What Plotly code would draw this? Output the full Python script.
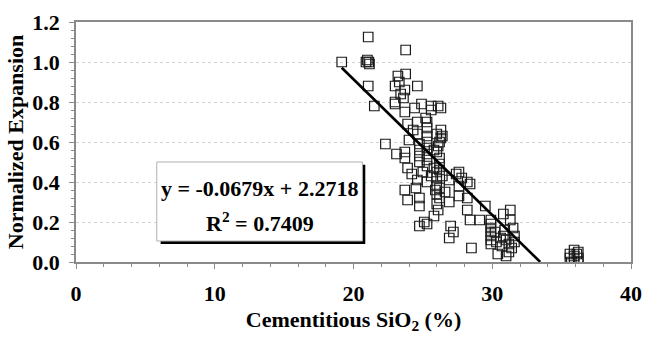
import numpy as np
import plotly.graph_objects as go

# ---- data ----
sio2 = [
    19.15, 21.06, 20.9, 21.0, 21.1, 21.15, 23.76, 21.06, 23.2, 23.76, 23.0, 23.3, 23.7, 24.6,
    23.0, 23.6, 23.4, 21.5, 24.9, 25.6, 26.1,
    23.0, 23.7, 24.4, 25.2, 25.6, 26.3, 23.9, 24.6, 25.3, 25.3, 24.6, 26.0, 25.3, 25.3, 25.3,
    25.3, 25.3, 25.3, 22.3, 23.1, 23.7, 23.7, 24.75, 24.75, 24.75, 24.75, 25.8, 26.2, 26.2,
    26.0, 26.1, 26.3, 24.6, 25.3, 26.0, 26.0, 26.0, 25.8, 26.2,
    26.3, 26.4, 26.2, 26.4, 27.6, 26.9, 28.2, 28.4, 27.8, 27.4,
    23.9, 24.75, 24.75, 24.5, 26.0, 25.8, 24.75, 25.3, 25.1, 26.0, 26.2, 26.1, 25.9,
    26.2, 27.6, 28.2, 26.9, 27.6, 28.2, 29.5, 31.3, 30.8, 28.4, 29.1, 29.9, 29.9, 29.9,
    29.9, 29.9, 29.9, 31.3, 27.0, 27.2, 26.9, 28.5, 30.3, 30.4, 31.0, 30.8, 31.0, 31.2,
    31.4, 30.7, 31.6, 31.6, 30.9, 31.2, 30.6, 29.9, 30.2, 31.5,
    35.6, 35.6, 35.9, 35.9, 35.9, 36.2, 36.2, 36.2, 35.7, 36.1,
    23.9, 24.2, 23.7, 24.3, 25.0, 24.0, 25.6, 26.6,
]
expansion = [
    1.00, 1.125, 1.00, 1.01, 1.00, 0.99, 1.06, 0.88, 0.93, 0.94, 0.88, 0.90, 0.86, 0.88,
    0.80, 0.82, 0.84, 0.78, 0.79, 0.78, 0.78,
    0.79, 0.75, 0.77, 0.72, 0.76, 0.77, 0.69, 0.70, 0.70, 0.67, 0.64, 0.64, 0.63, 0.60, 0.57,
    0.54, 0.51, 0.48, 0.59, 0.54, 0.55, 0.52, 0.59, 0.56, 0.53, 0.50, 0.56, 0.60, 0.52,
    0.55, 0.58, 0.62, 0.41, 0.40, 0.45, 0.42, 0.38, 0.47, 0.49,
    0.66, 0.63, 0.46, 0.43, 0.45, 0.41, 0.40, 0.39, 0.42, 0.44,
    0.31, 0.32, 0.28, 0.37, 0.29, 0.23, 0.18, 0.19, 0.20, 0.34, 0.32, 0.26, 0.36,
    0.37, 0.38, 0.32, 0.30, 0.33, 0.26, 0.28, 0.26, 0.24, 0.21, 0.21, 0.21, 0.19, 0.17,
    0.15, 0.13, 0.11, 0.21, 0.18, 0.15, 0.12, 0.07, 0.10, 0.04, 0.03, 0.13, 0.11, 0.09,
    0.07, 0.08, 0.13, 0.10, 0.16, 0.05, 0.12, 0.09, 0.15, 0.17,
    0.02, 0.04, 0.06, 0.03, 0.00, 0.05, 0.02, 0.00, 0.00, 0.04,
    0.47, 0.44, 0.36, 0.66, 0.45, 0.61, 0.43, 0.35,
]
fit_slope = -0.0679
fit_intercept = 2.2718
fit_x_start = 19.15
x_ticks = [0, 10, 20, 30, 40]
y_ticks = [0.0, 0.2, 0.4, 0.6, 0.8, 1.0, 1.2]
eq_text = "y = -0.0679x + 2.2718"
r2_text = "R<sup>2</sup> = 0.7409"

FONT = "Liberation Serif"
GREY = "#8a8a8a"

fit_x = np.array([fit_x_start, -fit_intercept / fit_slope])
fit_y = fit_slope * fit_x + fit_intercept

fig = go.Figure()
fig.add_trace(go.Scatter(
    x=sio2, y=expansion, mode="markers",
    marker=dict(symbol="square-open", size=9.5, color="#1a1a1a", line=dict(width=1.2)),
    showlegend=False, hoverinfo="skip"))
fig.add_trace(go.Scatter(
    x=fit_x, y=fit_y, mode="lines", line=dict(color="black", width=2.6),
    showlegend=False, hoverinfo="skip"))

# equation box (shadow + box)
fig.add_shape(type="rect", xref="x", yref="y", x0=6.10, x1=20.85, y0=0.090, y1=0.486,
              fillcolor="black", line=dict(width=0), layer="above")
fig.add_shape(type="rect", xref="x", yref="y", x0=5.82, x1=20.64, y0=0.105, y1=0.50,
              fillcolor="white", line=dict(color="#b0b0b0", width=1), layer="above")
fig.add_annotation(x=13.23, y=0.367, xref="x", yref="y", text=eq_text, showarrow=False,
                   font=dict(family=FONT, size=22, color="black", weight="bold"))
fig.add_annotation(x=13.23, y=0.20, xref="x", yref="y", text=r2_text, showarrow=False,
                   font=dict(family=FONT, size=22, color="black", weight="bold"))

fig.update_layout(
    width=652, height=345,
    margin=dict(l=76, r=12, t=10, b=83),
    paper_bgcolor="white", plot_bgcolor="white",
    font=dict(family=FONT, color="black"),
)
fig.update_xaxes(
    range=[0, 40], tickvals=x_ticks, ticks="outside", ticklen=5, tickcolor=GREY,
    minor=dict(dtick=2, ticks="outside", ticklen=3, tickcolor=GREY, showgrid=False),
    showgrid=False, zeroline=False, showline=True, linecolor=GREY, linewidth=1.5, mirror=True,
    tickfont=dict(family=FONT, size=22, color="black", weight="bold"),
    ticklabelstandoff=6, ticklabeloverflow="allow",
    title=dict(text="Cementitious SiO<sub>2</sub> (%)", standoff=6,
               font=dict(family=FONT, size=22, color="black", weight="bold")),
)
fig.update_yaxes(
    range=[0, 1.2], tickvals=y_ticks, tickformat=".1f", ticks="outside", ticklen=5,
    tickcolor=GREY,
    minor=dict(dtick=0.04, ticks="outside", ticklen=3, tickcolor=GREY, showgrid=False),
    showgrid=True, gridcolor="#d2d2d2", griddash="dot", gridwidth=1,
    zeroline=False, showline=True, linecolor=GREY, linewidth=1.5, mirror=True,
    tickfont=dict(family=FONT, size=22, color="black", weight="bold"),
    ticklabelstandoff=5, ticklabeloverflow="allow",
    title=dict(text="Normalized Expansion", standoff=3,
               font=dict(family=FONT, size=22, color="black", weight="bold")),
)

fig.write_html("out.html")
